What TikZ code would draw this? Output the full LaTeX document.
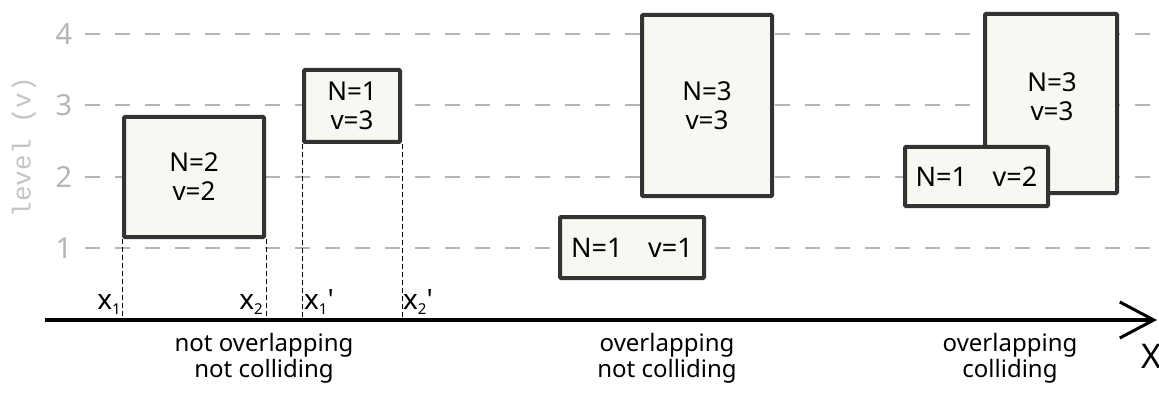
\documentclass[tikz,border=0pt]{standalone}
\usepackage{fontspec}
\setmainfont{Noto Sans}
\newfontfamily\plainsans{Noto Sans}
\newfontfamily\monofont{Liberation Mono}
\usetikzlibrary{arrows.meta}
\definecolor{gridgray}{HTML}{B5B5B5}
\definecolor{labgray}{HTML}{B5B5B5}
\definecolor{ylabgray}{HTML}{C4C4C4}
\definecolor{boxline}{HTML}{333333}
\definecolor{boxfill}{HTML}{F8F8F3}
\newcommand{\subx}[1]{\raisebox{-0.35ex}{\fontsize{15pt}{15pt}\selectfont #1}}
\begin{document}
\begin{tikzpicture}[x=1pt,y=-1pt,
  gridline/.style={gridgray, line width=2pt, dash pattern=on 15pt off 15pt},
  levellab/.style={labgray, font=\fontsize{29pt}{30pt}\selectfont, anchor=center},
  cbox/.style={draw=boxline, fill=boxfill, line width=4pt, rounded corners=1pt, align=center,
    font=\fontsize{26pt}{29pt}\selectfont, inner sep=0pt},
  vdash/.style={black, line width=1pt, dash pattern=on 5pt off 3pt},
  xlab/.style={font=\fontsize{28pt}{30pt}\selectfont, inner sep=0pt, anchor=base},
  caption/.style={font=\fontsize{24pt}{26pt}\selectfont, align=center, anchor=north, inner sep=0pt},
  axis/.style={black, line width=3.5pt}]
\useasboundingbox (0,0) rectangle (1159,393);
% grid
\foreach \v/\y in {1/248,2/177,3/105,4/34}{
  \draw[gridline] (85,\y) -- (1159,\y);
  \node[levellab] (lv\v) at (64,\y) {\v};
}
\node[ylabgray, rotate=90, inner sep=0pt, font=\monofont\fontsize{26pt}{28pt}\selectfont] (ylab) at (24,147) {level (v)};
% axis
\coordinate (axL) at (45,320);
\coordinate (axR) at (1157,320);
\draw[axis, -{Straight Barb[length=34pt,width=36pt,line width=3pt]}] (axL) -- (axR);
\node[font=\fontsize{34pt}{36pt}\selectfont, inner sep=0pt] (X) at (1151,356) {X};
% boxes
\node[cbox, minimum width=140pt, minimum height=120pt] (A) at (194,177) {N=2\\v=2};
\node[cbox, minimum width=96pt, minimum height=72pt] (B) at (352,106) {N=1\\v=3};
\node[cbox, minimum width=130pt, minimum height=181pt] (C) at (707,105.5) {N=3\\v=3};
\node[cbox, minimum width=144pt, minimum height=61pt, font=\fontsize{27pt}{29pt}\selectfont] (D) at (632,247.5) {N=1\hspace{0.95em}v=1};
\node[cbox, minimum width=132pt, minimum height=179pt] (E) at (1051,103.5) {};
\node[align=center, inner sep=0pt, font=\fontsize{26pt}{29pt}\selectfont] (Et) at (1052,97) {N=3\\v=3};
\node[cbox, minimum width=143pt, minimum height=59pt, font=\fontsize{27pt}{29pt}\selectfont] (F) at (976.5,176.5) {N=1\hspace{0.95em}v=2};
% dashed verticals
\draw[vdash] (A.south west) -- (A.south west |- axL);
\draw[vdash] (A.south east) -- (A.south east |- axL);
\draw[vdash] (B.south west) -- (B.south west |- axL);
\draw[vdash] (B.south east) -- (B.south east |- axL);
% x labels
\node[xlab] (x1) at (109,309) {x\subx{1}};
\node[xlab] (x2) at (251,309) {x\subx{2}};
\node[xlab] (x1p) at (319,309) {x\subx{1}{\plainsans'}};
\node[xlab] (x2p) at (418,309) {x\subx{2}{\plainsans'}};
% captions
\node[caption] (c1) at (264,333) {not overlapping\\not colliding};
\node[caption] (c2) at (667,333) {overlapping\\not colliding};
\node[caption] (c3) at (1010,333) {overlapping\\colliding};
\end{tikzpicture}
\end{document}
